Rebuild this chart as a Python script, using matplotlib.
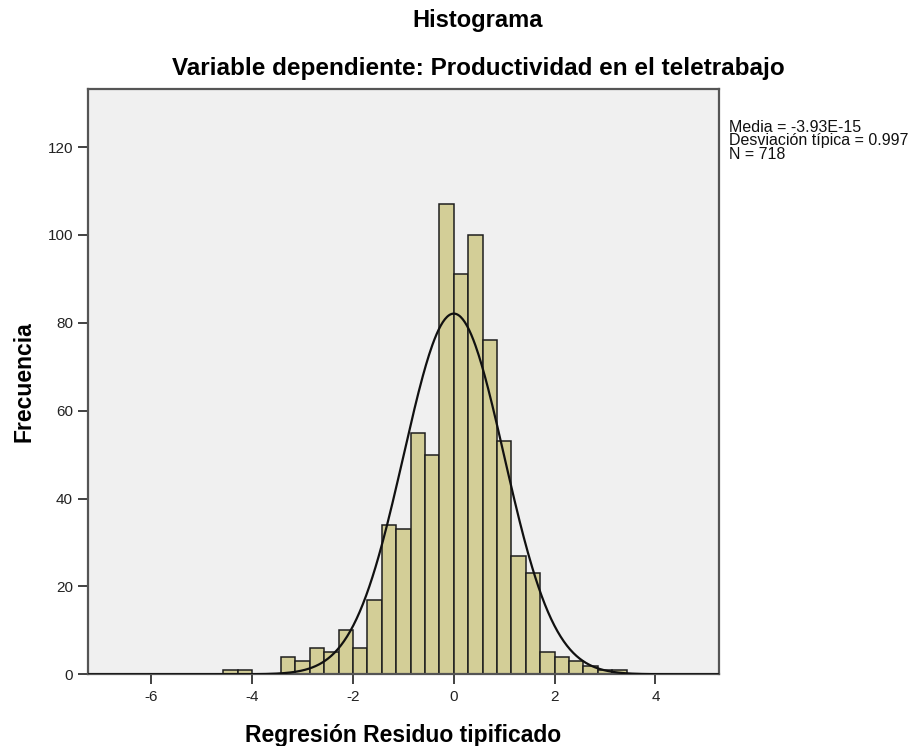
import numpy as np
import matplotlib
matplotlib.use("Agg")
import matplotlib.pyplot as plt

plt.rcParams['font.family'] = ['Liberation Sans', 'DejaVu Sans']

# Histogram of standardized regression residuals
bin_width = 2 / 7
first_edge = -32 / 7
counts = [1, 1, 0, 0, 4, 3, 6, 5, 10, 6, 17, 34, 33, 55, 50, 107,
          91, 100, 76, 53, 27, 23, 5, 4, 3, 2, 1, 1]

# Summary statistics
media = -3.93e-15
desviacion = 0.997
n_total = 718

x_ticks = [-6, -4, -2, 0, 2, 4]
y_ticks = [0, 20, 40, 60, 80, 100, 120]

W, H = 919, 746
fig = plt.figure(figsize=(W / 100, H / 100), dpi=100)
ax = fig.add_axes([88.3 / W, 1 - 674.3 / H, (718.5 - 88.3) / W, (674.3 - 89) / H])
ax.set_facecolor('#F0F0F0')

edges = first_edge + bin_width * np.arange(len(counts))
heights = np.array(counts)
mask = heights > 0
ax.bar(edges[mask], heights[mask], width=bin_width, align='edge',
       color='#D3CE97', edgecolor='#1E1E1E', linewidth=1.1, zorder=2)

# Fitted normal curve scaled to counts
xs = np.linspace(-7.25, 5.25, 600)
ys = n_total * bin_width / (desviacion * np.sqrt(2 * np.pi)) * np.exp(-0.5 * ((xs - media) / desviacion) ** 2)
ax.plot(xs, ys, color='#111111', linewidth=1.6, zorder=3)

ax.set_xlim(-7.25, 5.25)
ax.set_ylim(0, 133.2)
ax.set_xticks(x_ticks)
ax.set_xticklabels([f"{t}" for t in x_ticks])
ax.set_yticks(y_ticks)
ax.set_yticklabels([f"{t}" for t in y_ticks])
ax.tick_params(axis='both', direction='out', length=7, width=1.3, color='#333333',
               labelsize=11, labelcolor='#222222', pad=4)
for s in ax.spines.values():
    s.set_color('#555555')
    s.set_linewidth(1.6)

ax.set_xlabel('Regresión Residuo tipificado', fontsize=16.5, fontweight='bold', labelpad=15)
ax.set_ylabel('Frecuencia', fontsize=16.5, fontweight='bold', labelpad=9)

fig.text(478 / W, 1 - 21 / H, 'Histograma', ha='center', va='center',
         fontsize=17, fontweight='bold')
fig.text(478 / W, 1 - 69 / H, 'Variable dependiente: Productividad en el teletrabajo',
         ha='center', va='center', fontsize=17.5, fontweight='bold')

fig.text(729 / W, 1 - 120 / H,
         f"Media = -3.93E-15\nDesviación típica = {desviacion}\nN = {n_total}",
         ha='left', va='top', fontsize=11.5, linespacing=0.86, color='#111111')

fig.savefig('out.png', dpi=100, facecolor='white')
